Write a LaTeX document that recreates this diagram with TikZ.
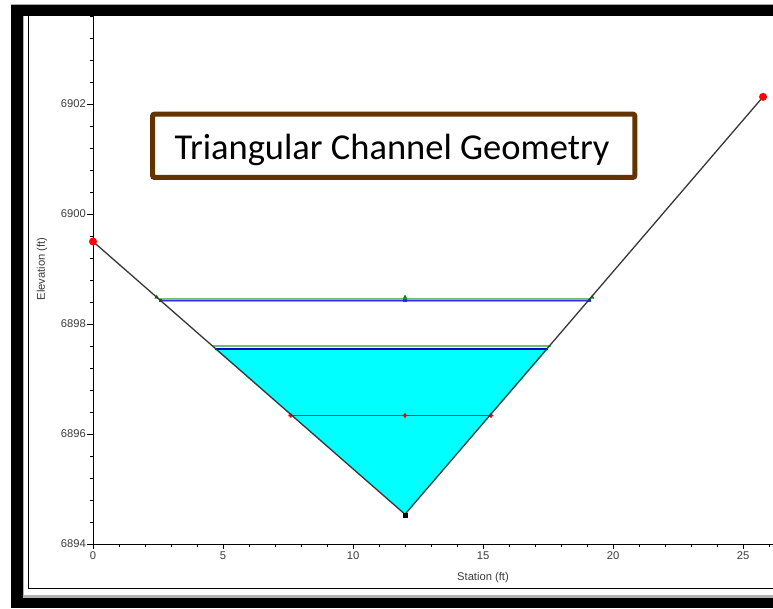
\documentclass[tikz,border=0pt]{standalone}
\usepackage{fontspec}
\setmainfont{Liberation Sans}
\newfontfamily\calib{Carlito}
\usetikzlibrary{calc}
\definecolor{axisgrey}{RGB}{55,55,55}
\definecolor{labelgrey}{RGB}{60,60,60}
\definecolor{boxbrown}{RGB}{99,51,0}
\definecolor{wscyan}{RGB}{0,255,255}
\definecolor{wsgreen}{RGB}{110,190,110}
\definecolor{wsgreendark}{RGB}{0,140,0}
\definecolor{wsblue}{RGB}{40,40,255}
\definecolor{wsdarkblue}{RGB}{0,0,200}
\definecolor{redpt}{RGB}{255,0,0}
\tikzset{
  ticklabel/.style={font=\fontsize{11.2}{13}\selectfont, text=labelgrey, inner sep=0pt},
  tickmark/.style={draw=black, line width=0.8pt},
  groundline/.style={draw=axisgrey, line width=1.3pt},
  titlebox/.style={draw=boxbrown, line width=5pt, rounded corners=2pt, fill=white,
    minimum width=482.3pt, minimum height=63.3pt, inner sep=0pt},
  titletext/.style={font=\calib\fontsize{36.5}{40}\selectfont, inner sep=0pt},
}
\begin{document}
\begin{tikzpicture}[x=1pt,y=-1pt]
\useasboundingbox (0,0) rectangle (773,608);
% outer frame
\fill[black] (10.5,5) rectangle (773,608);
\fill[black!30] (22.7,16) rectangle (773,598);
\fill[white] (24.2,16) rectangle (773,595.3);
\draw[black!35, line width=0.8pt] (10.5,4.4) -- (773,4.4);
\draw[black, line width=0.9pt] (28.3,16) -- (28.3,588) -- (773,588);
% axes
\draw[black, line width=1pt] (93,16) -- (93,544) -- (773,544);
\foreach \k in {0,...,26} \draw[tickmark] ({93+26*\k},544) -- ++(0,3);
\foreach \k in {0,5,...,25} \draw[tickmark] ({93+26*\k},544) -- ++(0,5);
\foreach \k in {0,...,24} \draw[tickmark] (93,{544-22*\k}) -- ++(-3,0);
\foreach \k in {0,5,...,20} \draw[tickmark] (93,{544-22*\k}) -- ++(-6,0);
\foreach \v/\k in {6894/0,6896/5,6898/10,6900/15,6902/20}
  \node[ticklabel,anchor=east] at (86,{544-22*\k}) {\v};
\foreach \s in {0,5,10,15,20,25}
  \node[ticklabel] at ({93+26*\s},556) {\s};
\node[ticklabel] (xlabel) at (483,578) {Station (ft)};
\node[ticklabel, rotate=90] (ylabel) at (42,269) {Elevation (ft)};
% data
\begin{scope}[shift={(93pt,-544pt)}, x=26pt, y=55pt]
  \coordinate (L) at (0,5.5);
  \coordinate (B) at (12,0.54);
  \coordinate (R) at (25.77,8.13);
  % water fill
  \fill[wscyan] (4.69,3.545) -- (17.50,3.545) -- (B) -- cycle;
  % second water surface
  \draw[wsgreen, line width=1.2pt] (4.56,3.6) -- (17.60,3.6);
  \draw[wsdarkblue, line width=1.6pt] (4.69,3.548) -- (17.50,3.548);
  % red line
  \coordinate (RL) at (7.6,2.3364);
  \coordinate (RM) at (12,2.3364);
  \coordinate (RR) at (15.31,2.3364);
  \fill[redpt] ($(RL)+(0,-0.9pt)$) rectangle ($(RR)+(0,0.9pt)$);
  \foreach \p in {RL,RM,RR}
    \fill[redpt] ($(\p)+(-2.2pt,-0.9pt)$) rectangle ++(4.4pt,1.8pt)
      ($(\p)+(-0.9pt,-2.2pt)$) rectangle ++(1.8pt,4.4pt);
  % top water surface
  \draw[wsgreen, line width=1.3pt] (2.49,4.464) -- (19.15,4.464);
  \draw[wsblue!45, line width=2.6pt] (2.58,4.424) -- (19.08,4.424);
  \draw[wsblue, line width=1pt] (2.58,4.424) -- (19.08,4.424);
  \foreach \s in {2.6,12,19.1}
    \fill[wsblue] ($(\s,4.424)+(-1.8pt,-1.8pt)$) rectangle ++(3.6pt,3.6pt);
  \foreach \s in {2.45,12,19.2}
    \fill[wsgreendark] ($(\s,4.49)+(-2.2pt,-1.5pt)$) -- ++(4.4pt,0) -- ++(-2.2pt,4pt) -- cycle;
  % ground
  \draw[groundline] (L) -- (B) -- (R);
  \fill[redpt] (L) circle[radius=4pt];
  \fill[redpt] (R) circle[radius=4pt];
  \fill[black] ($(B)+(-2.5pt,-3.5pt)$) rectangle ++(5pt,5pt);
\end{scope}
% title
\node[titlebox] (titlebox) at (393.7,145.8) {};
\node[titletext, anchor=base] (title) at (392,159.3) {Triangular Channel Geometry};
\end{tikzpicture}
\end{document}
